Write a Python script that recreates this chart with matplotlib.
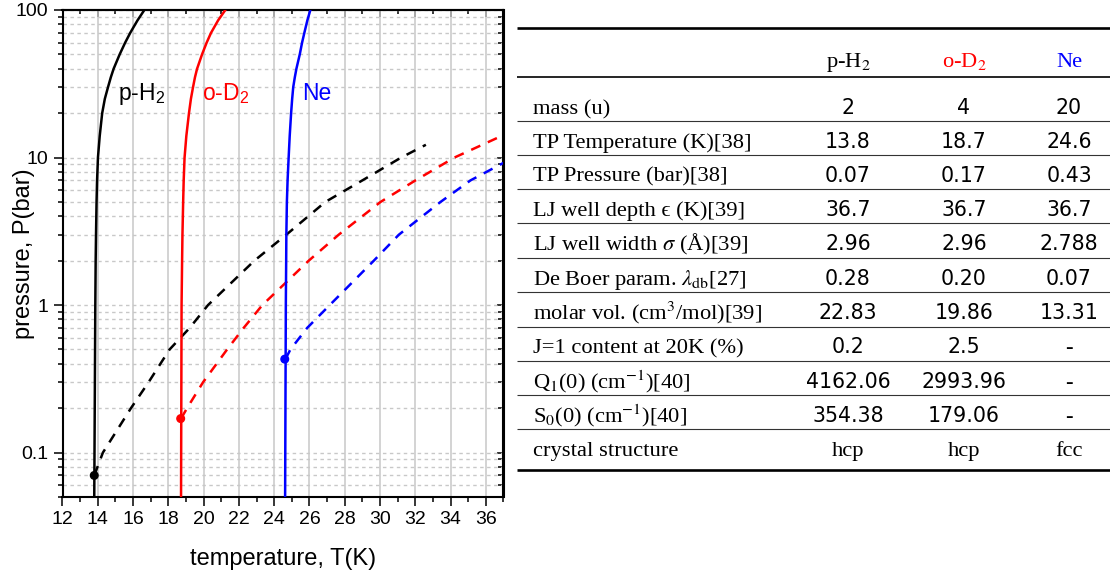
import matplotlib
matplotlib.use('Agg')
import matplotlib.pyplot as plt
from matplotlib.ticker import MultipleLocator, LogLocator, NullFormatter

plt.rcParams['font.family'] = ['Liberation Sans', 'DejaVu Sans']
plt.rcParams['mathtext.fontset'] = 'custom'
plt.rcParams['mathtext.rm'] = 'Liberation Sans'
plt.rcParams['mathtext.it'] = 'Liberation Sans:italic'
plt.rcParams['mathtext.bf'] = 'Liberation Sans:bold'

# --- phase diagram data ---
# melting curves
melt_P = [0.05, 1, 2, 3, 5, 7, 10, 14, 20, 25, 30, 35, 40, 50, 60, 70, 85, 100]
h2_melt_T = [13.80, 13.86, 13.88, 13.90, 13.93, 13.96, 14.01, 14.11, 14.25, 14.40, 14.58, 14.74,
             14.90, 15.24, 15.55, 15.84, 16.25, 16.64]
d2_melt_T = [18.72, 18.75, 18.78, 18.80, 18.84, 18.87, 18.92, 19.02, 19.17, 19.28, 19.40, 19.51,
             19.63, 19.91, 20.17, 20.42, 20.82, 21.23]
ne_melt_T = [24.62, 24.66, 24.68, 24.69, 24.72, 24.76, 24.82, 24.88, 24.96, 25.02, 25.08, 25.17,
             25.26, 25.45, 25.58, 25.71, 25.88, 26.05]
# vapour curves
h2_vap_T = [13.80, 14.29, 15.88, 16.88, 18.07, 19.21, 20.25, 22.88, 24.69, 26.90, 29.00, 31.20, 32.60]
h2_vap_P = [0.07, 0.1, 0.2, 0.3, 0.5, 0.7, 1, 2, 3, 5, 7, 10, 12.2]
d2_vap_T = [18.72, 19.06, 19.97, 21.33, 22.27, 23.33, 25.96, 27.66, 30.03, 32.01, 34.22, 37.0]
d2_vap_P = [0.17, 0.2, 0.3, 0.5, 0.7, 1, 2, 3, 5, 7, 10, 14.2]
ne_vap_T = [24.64, 24.92, 25.87, 27.15, 29.65, 31.07, 33.43, 35.13, 37.0]
ne_vap_P = [0.43, 0.5, 0.7, 1, 2, 3, 5, 7, 9.2]
# triple points
tp_T = [13.8, 18.7, 24.6]
tp_P = [0.07, 0.17, 0.43]

species = ['p-H$_2$', 'o-D$_2$', 'Ne']
colors = ['black', '#ff0000', '#0000ff']

# --- table data ---
row_labels = [
    'mass (u)',
    'TP Temperature (K)[38]',
    'TP Pressure (bar)[38]',
    'LJ well depth \u03f5 (K)[39]',
    r'LJ well width $\sigma$ (Å)[39]',
    r'De Boer param. $\lambda_{\mathrm{db}}$[27]',
    r'molar vol. (cm$^3$/mol)[39]',
    'J=1 content at 20K (%)',
    r'Q$_1$(0) (cm$^{-1}$)[40]',
    r'S$_0$(0) (cm$^{-1}$)[40]',
    'crystal structure',
]
ph2_vals = ['2', '13.8', '0.07', '36.7', '2.96', '0.28', '22.83', '0.2', '4162.06', '354.38', 'hcp']
od2_vals = ['4', '18.7', '0.17', '36.7', '2.96', '0.20', '19.86', '2.5', '2993.96', '179.06', 'hcp']
ne_vals = ['20', '24.6', '0.43', '36.7', '2.788', '0.07', '13.31', '-', '-', '-', 'fcc']

fig = plt.figure(figsize=(11.1, 5.75), dpi=100)
W, H = 1110, 575
ax = fig.add_axes([62.5 / W, 1 - 497 / H, 441 / W, 487 / H])

# curves
melts = [h2_melt_T, d2_melt_T, ne_melt_T]
vaps = [(h2_vap_T, h2_vap_P), (d2_vap_T, d2_vap_P), (ne_vap_T, ne_vap_P)]
for mt, (vt, vp), c in zip(melts, vaps, colors):
    ax.plot(mt, melt_P, color=c, lw=1.8, zorder=3)
    ax.plot(vt, vp, color=c, lw=1.8, dashes=(4, 3.3), zorder=3)
ax.scatter(tp_T, tp_P, c=colors, s=30, zorder=4)

# labels on curves
label_T = [15.12, 19.91, 25.58]
for t, name, c in zip(label_T, species, colors):
    ax.text(t, 24.5, name, color=c, fontsize=16.5, ha='left', va='baseline')

ax.set_yscale('log')
ax.set_xlim(12, 37)
ax.set_ylim(0.05, 100)
ax.xaxis.set_major_locator(MultipleLocator(2))
ax.xaxis.set_minor_locator(MultipleLocator(1))
ax.set_yticks([0.1, 1, 10, 100], labels=['0.1', '1', '10', '100'])
ax.yaxis.set_minor_locator(LogLocator(subs=range(2, 10), numticks=20))
ax.yaxis.set_minor_formatter(NullFormatter())
ax.tick_params(which='major', direction='out', length=6.5, width=1.1, labelsize=14)
ax.tick_params(which='minor', direction='out', length=3.5, width=1.1)

ax.grid(True, axis='x', which='major', color='#c8c8c8', lw=1.1, zorder=0)
ax.grid(True, axis='y', which='both', color='#c8c8c8', lw=1.0, ls=(0, (2.5, 2.5)), zorder=0)
ax.set_axisbelow(True)
for s in ax.spines.values():
    s.set_linewidth(1.5)

# inward ticks on top and right
top = ax.secondary_xaxis('top')
top.xaxis.set_major_locator(MultipleLocator(2))
top.xaxis.set_minor_locator(MultipleLocator(1))
top.tick_params(which='both', direction='in', labeltop=False, width=1.1)
top.tick_params(which='major', length=5)
top.tick_params(which='minor', length=3)
right = ax.secondary_yaxis('right')
right.set_yticks([0.1, 1, 10, 100])
right.yaxis.set_minor_locator(LogLocator(subs=range(2, 10), numticks=20))
right.tick_params(which='both', direction='in', labelright=False, width=1.1)
right.tick_params(which='major', length=5)
right.tick_params(which='minor', length=4)
for sec in (top, right):
    for s in sec.spines.values():
        s.set_linewidth(1.5)

ax.set_xlabel('temperature, T(K)', fontsize=17)
ax.set_ylabel('pressure, P(bar)', fontsize=17)
ax.xaxis.set_label_coords(0.5, -0.105)
ax.yaxis.set_label_coords(-0.063, 0.5)

# --- table on the right, pixel coordinates ---
tab = fig.add_axes([517 / W, 0, (W - 517) / W, 1])
tab.set_xlim(517, W)
tab.set_ylim(H, 0)
tab.axis('off')

serif = ['Liberation Serif', 'DejaVu Serif']
col_x = [848, 964, 1069]
for x, name, c in zip(col_x, species, colors):
    tab.text(x, 67, name, color=c, fontsize=16.2, ha='center', va='baseline',
             family=serif, math_fontfamily='stix')

baselines = [114.3, 147.7, 181.7, 215.7, 250, 285, 319, 353, 388, 422, 455.7]
for y, lab, a, b, c in zip(baselines, row_labels, ph2_vals, od2_vals, ne_vals):
    tab.text(533, y, lab, fontsize=16.2, ha='left', va='baseline',
             family=serif, math_fontfamily='stix')
    for x, v in zip(col_x, (a, b, c)):
        if v[0].isdigit():
            tab.text(x, y, v, fontsize=14.8, ha='center', va='baseline', family=['DejaVu Sans'])
        else:
            tab.text(x, y, v, fontsize=16.2, ha='center', va='baseline', family=serif)

rule_y = [121, 155, 189, 223.3, 257.5, 292.3, 326.7, 360.7, 395, 429]
tab.plot([517, W], [27.7, 27.7], color='black', lw=1.9, clip_on=False, solid_capstyle='butt')
tab.plot([517, W], [76.7, 76.7], color='black', lw=1.2, clip_on=False, solid_capstyle='butt')
for y in rule_y:
    tab.plot([517, W], [y, y], color='#333333', lw=0.8, clip_on=False, solid_capstyle='butt')
tab.plot([517, W], [470, 470], color='black', lw=1.9, clip_on=False, solid_capstyle='butt')

fig.savefig('out.png', dpi=100)
